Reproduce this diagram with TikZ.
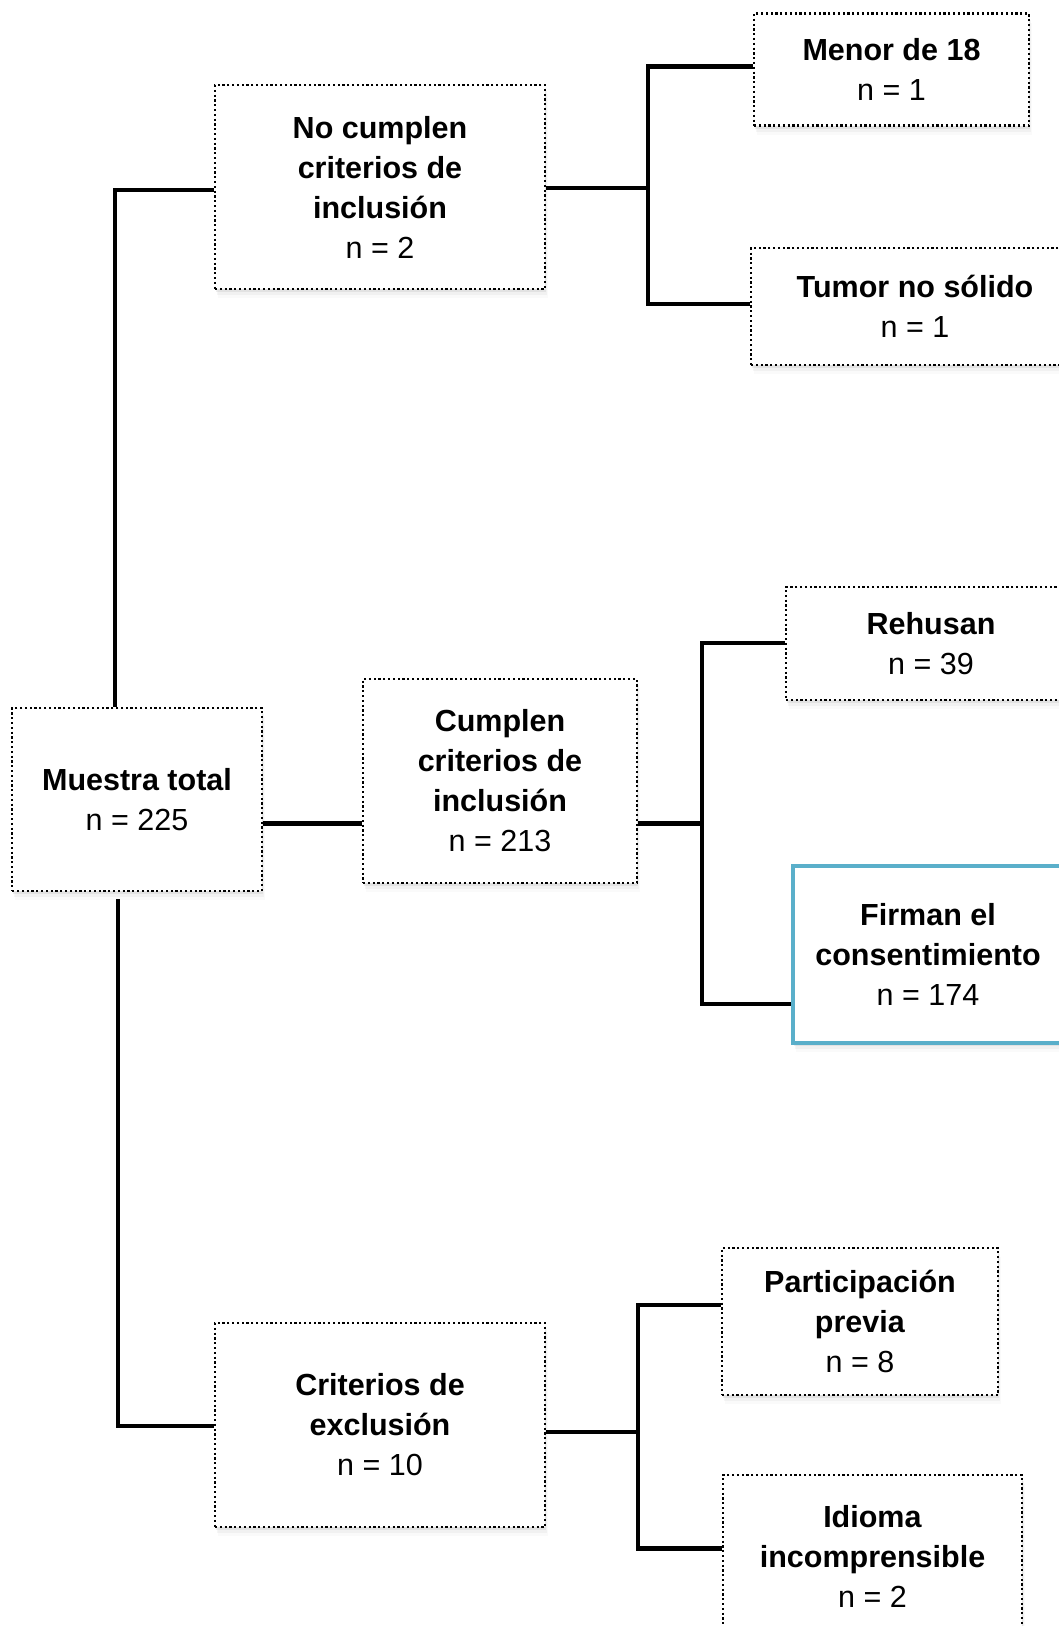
\documentclass[tikz,border=0pt]{standalone}
\usepackage{fontspec}
\setmainfont{Liberation Sans}
\usetikzlibrary{shadows}
\definecolor{bluebox}{HTML}{5AAFCA}
\tikzset{
  boxbase/.style={fill=white, inner sep=0pt, align=center,
    font=\fontsize{30.5}{40}\selectfont,
    drop shadow={shadow xshift=1pt, shadow yshift=-3pt, opacity=0.12},
    drop shadow={shadow xshift=2pt, shadow yshift=-6pt, opacity=0.07},
    drop shadow={shadow xshift=3pt, shadow yshift=-9pt, opacity=0.04}},
  dotbox/.style={boxbase, draw=black, line width=2.4pt, dash pattern=on 2.2pt off 2.6pt},
  bluebx/.style={boxbase, draw=bluebox, line width=4.5pt},
  conn/.style={draw=black, line width=4.2pt, line join=miter, line cap=butt}
}
\newcommand{\ttl}[1]{\textbf{#1}}
\begin{document}
\begin{tikzpicture}[x=1pt,y=-1pt]
\useasboundingbox (0,0) rectangle (1059,1626);
\clip (0,0) rectangle (1059,1626);
\fill[white] (0,0) rectangle (1059,1626);

% nodes
\node[dotbox, minimum width=249.5pt, minimum height=183pt] (tot) at (137,799.5)
  {\ttl{Muestra total}\\n = 225};
\node[dotbox, minimum width=330pt, minimum height=204pt] (nocum) at (380,187)
  {\ttl{No cumplen}\\\ttl{criterios de}\\\ttl{inclusión}\\n = 2};
\node[dotbox, minimum width=274pt, minimum height=204pt] (cum) at (500,781)
  {\ttl{Cumplen}\\\ttl{criterios de}\\\ttl{inclusión}\\n = 213};
\node[dotbox, minimum width=330pt, minimum height=204pt] (excl) at (380,1425)
  {\ttl{Criterios de}\\\ttl{exclusión}\\n = 10};
\node[dotbox, minimum width=275pt, minimum height=112pt] (menor) at (891.5,69.5)
  {\ttl{Menor de 18}\\n = 1};
\node[dotbox, minimum width=328pt, minimum height=117pt] (tumor) at (915,306.5)
  {\ttl{Tumor no sólido}\\n = 1};
\node[dotbox, minimum width=290pt, minimum height=113pt] (rehusan) at (931,643.5)
  {\ttl{Rehusan}\\n = 39};
\node[bluebx, minimum width=270pt, minimum height=177pt] (firman) at (928,954.5)
  {\ttl{Firman el}\\\ttl{consentimiento}\\n = 174};
\node[dotbox, minimum width=276pt, minimum height=147pt] (part) at (860,1321.5)
  {\ttl{Participación}\\\ttl{previa}\\n = 8};
\node[dotbox, minimum width=299pt, minimum height=162pt] (idioma) at (872.5,1556)
  {\ttl{Idioma}\\\ttl{incomprensible}\\n = 2};

% helper coordinates
\coordinate (m1) at (0,823.5);
\coordinate (b1) at (648,0);
\coordinate (b2) at (702,0);
\coordinate (b3) at (638,0);
\coordinate (y0) at (0,190);
\coordinate (y1) at (0,187.7);
\coordinate (ymen) at (0,66.4);
\coordinate (ytum) at (0,304);
\coordinate (yreh) at (0,643);
\coordinate (y2) at (0,1426);
\coordinate (y3) at (0,1432);
\coordinate (ypar) at (0,1305);
\coordinate (yidi) at (0,1548.5);
\coordinate (f1) at (0,1004);

% connectors
\draw[conn] ([xshift=-22pt]tot.north) |- (nocum.west |- y0);
\draw[conn] ([xshift=-19pt,yshift=-7pt]tot.south) |- (excl.west |- y2);
\draw[conn] (tot.east |- m1) -- (cum.west |- m1);

\draw[conn] (nocum.east |- y1) -- (b1 |- y1);
\draw[conn] (menor.west |- ymen) -| (b1 |- ytum) -- (tumor.west |- ytum);

\draw[conn] (cum.east |- m1) -- (b2 |- m1);
\draw[conn] (rehusan.west |- yreh) -| (b2 |- f1) -- (firman.west |- f1);

\draw[conn] (excl.east |- y3) -- (b3 |- y3);
\draw[conn] (part.west |- ypar) -| (b3 |- yidi) -- (idioma.west |- yidi);
\end{tikzpicture}
\end{document}
